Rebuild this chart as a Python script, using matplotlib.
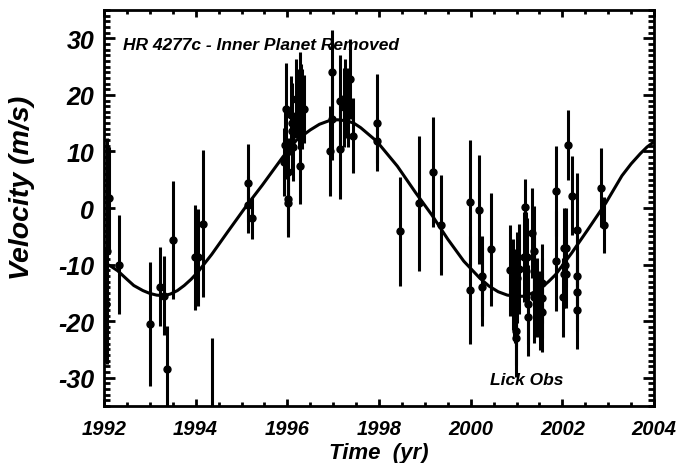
import matplotlib
matplotlib.use("Agg")
import matplotlib.pyplot as plt
from matplotlib import font_manager
from matplotlib.ticker import MultipleLocator

# narrow Helvetica-like face if the system has one
try:
    font_manager.findfont('Liberation Sans Narrow', fallback_to_default=False)
    FAMILY = ['Liberation Sans Narrow', 'DejaVu Sans']
    NARROW = True
except Exception:
    FAMILY = ['Liberation Sans', 'DejaVu Sans']
    NARROW = False

plt.rcParams['font.family'] = FAMILY
plt.rcParams['axes.unicode_minus'] = False

# observations: time (yr), velocity (m/s), error (m/s)
obs_time = [1992.06, 1992.05, 1992.11, 1992.33, 1993.00, 1993.22, 1993.30, 1993.37,
            1993.51, 1993.99, 1994.06, 1994.15, 1994.35, 1995.14, 1995.14, 1995.22,
            1995.94, 1995.93, 1995.97, 1996.01, 1996.02, 1996.02, 1996.07, 1996.10,
            1996.10, 1996.13, 1996.18, 1996.25, 1996.27, 1996.30, 1996.32, 1996.37,
            1996.27, 1996.97, 1996.98, 1996.93, 1997.15, 1997.15, 1997.25, 1997.23,
            1997.33, 1997.36, 1997.44, 1997.95, 1997.95, 1998.46, 1998.88, 1999.18,
            1999.35, 1999.99, 1999.99, 2000.19, 2000.25, 2000.25, 2000.44, 2000.86,
            2000.93, 2000.95, 2000.97, 2000.99, 2001.00, 2001.05, 2000.99, 2000.99,
            2001.18, 2001.16, 2001.20, 2001.23, 2001.34, 2001.38, 2001.38, 2001.38,
            2001.25, 2001.25, 2001.45, 2001.52, 2001.55, 2001.55, 2001.56, 2001.87,
            2001.87, 2002.03, 2002.07, 2002.03, 2002.07, 2002.01, 2002.06, 2002.13,
            2002.22, 2002.31, 2002.31, 2002.33, 2002.33, 2002.84, 2002.90]
obs_vel = [-7.6, -17.0, 1.8, -10.0, -20.5, -13.9, -15.5, -28.5,
           -5.7, -8.7, -8.7, -2.8, -37.0, 4.5, 0.6, -1.8,
           11.1, 8.2, 17.5, 6.3, 1.6, 0.9, 16.4, 15.1,
           13.7, 10.8, 19.3, 17.5, 20.5, 18.4, 17.5, 17.5,
           7.4, 24.1, 15.7, 10.1, 19.0, 10.4, 19.4, 17.8,
           17.8, 22.8, 12.8, 15.1, 11.9, -4.1, 0.8, 6.3,
           -3.0, 1.0, -14.5, -0.3, -12.0, -13.9, -7.3, -11.0,
           -13.5, -15.2, -15.8, -16.4, -12.3, -10.8, -21.8, -22.9,
           0.1, -8.7, -8.7, -8.7, -4.4, -7.6, -11.1, -15.8,
           -17.0, -19.2, -15.8, -18.1, -13.3, -15.9, -18.4, 3.0,
           -9.4, -7.0, -7.0, -11.7, -11.7, -15.8, -10.0, 11.2,
           2.2, -3.8, -12.0, -14.8, -18.0, 3.6, -3.0]
obs_err = [20, 10, 9, 8.7, 11, 7, 7, 7.7,
           10.4, 9.3, 8.6, 13, 14, 6.9, 5, 3.7,
           6, 6, 8.2, 6, 6, 6, 7, 7,
           7, 6, 7, 7, 7, 7, 7, 6,
           6.7, 7.3, 7.3, 7.9, 8, 8.8, 7, 7,
           7, 7.1, 6.7, 8.6, 4, 9.6, 12, 9.7,
           8.8, 11, 9.6, 9.6, 7, 7, 10, 8,
           8, 8, 8, 8, 8, 8, 6, 7,
           5, 8, 8, 7, 8, 8, 7, 8,
           7, 7, 7, 7, 7, 7, 7, 8,
           8.8, 7, 7, 6, 6, 7, 6, 6.2,
           7, 10, 7, 7, 7, 7, 5]

# fitted orbit
fit_time = [1992.0, 1992.15, 1992.3, 1992.5, 1992.65, 1992.85, 1993.0, 1993.15,
            1993.3, 1993.45, 1993.6, 1993.75, 1993.9, 1994.05, 1994.35, 1994.7,
            1995.1, 1995.45, 1995.9, 1996.2, 1996.5, 1996.7, 1996.9, 1997.1,
            1997.3, 1997.45, 1997.6, 1997.95, 1998.4, 1998.8, 1999.15, 1999.5,
            1999.85, 2000.2, 2000.4, 2000.6, 2000.8, 2001.0, 2001.15, 2001.3,
            2001.5, 2001.7, 2001.85, 2002.2, 2002.55, 2002.95, 2003.3, 2003.5,
            2003.7, 2003.85, 2004.0]
fit_vel = [-9.6, -10.3, -11.1, -12.6, -13.7, -14.6, -15.1, -15.4,
           -15.5, -15.2, -14.6, -13.7, -12.6, -11.3, -8.2, -4.2,
           0.3, 4.0, 9.0, 12.0, 13.8, 14.8, 15.4, 15.6,
           15.4, 15.0, 14.2, 11.8, 7.4, 2.7, -1.2, -5.5,
           -9.4, -12.4, -13.8, -14.8, -15.4, -15.6, -15.6, -15.2,
           -14.4, -13.0, -11.8, -8.0, -3.9, 0.9, 5.7, 7.8,
           9.6, 10.8, 11.7]

fig = plt.figure(figsize=(6.78, 4.64), dpi=100)
ax = fig.add_axes([0.1534, 0.1228, 0.8112, 0.8535])

ax.errorbar(obs_time, obs_vel, yerr=obs_err, fmt='o', color='black',
            markersize=5, elinewidth=2.2, capsize=0)
ax.plot(fit_time, fit_vel, color='black', linewidth=2.2)

ax.set_xlim(1992, 2004)
ax.set_ylim(-35, 35)
ax.xaxis.set_major_locator(MultipleLocator(2))
ax.xaxis.set_minor_locator(MultipleLocator(0.5))
ax.yaxis.set_major_locator(MultipleLocator(10))
ax.yaxis.set_minor_locator(MultipleLocator(1))
ax.tick_params(which='both', direction='in', top=True, right=True, width=2)
ax.tick_params(axis='x', which='major', length=5, pad=9)
ax.tick_params(axis='x', which='minor', length=3)
ax.tick_params(axis='y', which='major', length=7.7, pad=7)
ax.tick_params(axis='y', which='minor', length=4)
for s in ax.spines.values():
    s.set_linewidth(2)

xsize = 16 if NARROW else 14.5
ysize = 21 if NARROW else 18
for t in ax.get_xticklabels():
    t.set_fontsize(xsize)
    t.set_fontweight('bold')
    t.set_fontstyle('italic')
for t in ax.get_yticklabels():
    t.set_fontsize(ysize)
    t.set_fontweight('bold')
    t.set_fontstyle('italic')

ax.set_xlabel('Time  (yr)', fontsize=18 if NARROW else 16, fontweight='bold', fontstyle='italic')
ax.set_ylabel('Velocity (m/s)', fontsize=23 if NARROW else 20.5, fontweight='bold', fontstyle='italic')
ax.xaxis.set_label_coords(0.5, -0.09)
ax.yaxis.set_label_coords(-0.125, 0.553)

tsize = 14 if NARROW else 12.5
ax.text(1992.41, 28.9, 'HR 4277c - Inner Planet Removed', fontsize=tsize,
        fontweight='bold', fontstyle='italic', va='center')
ax.text(2000.43, -30.4, 'Lick Obs', fontsize=tsize,
        fontweight='bold', fontstyle='italic', va='center')

fig.savefig('out.png', dpi=100)
